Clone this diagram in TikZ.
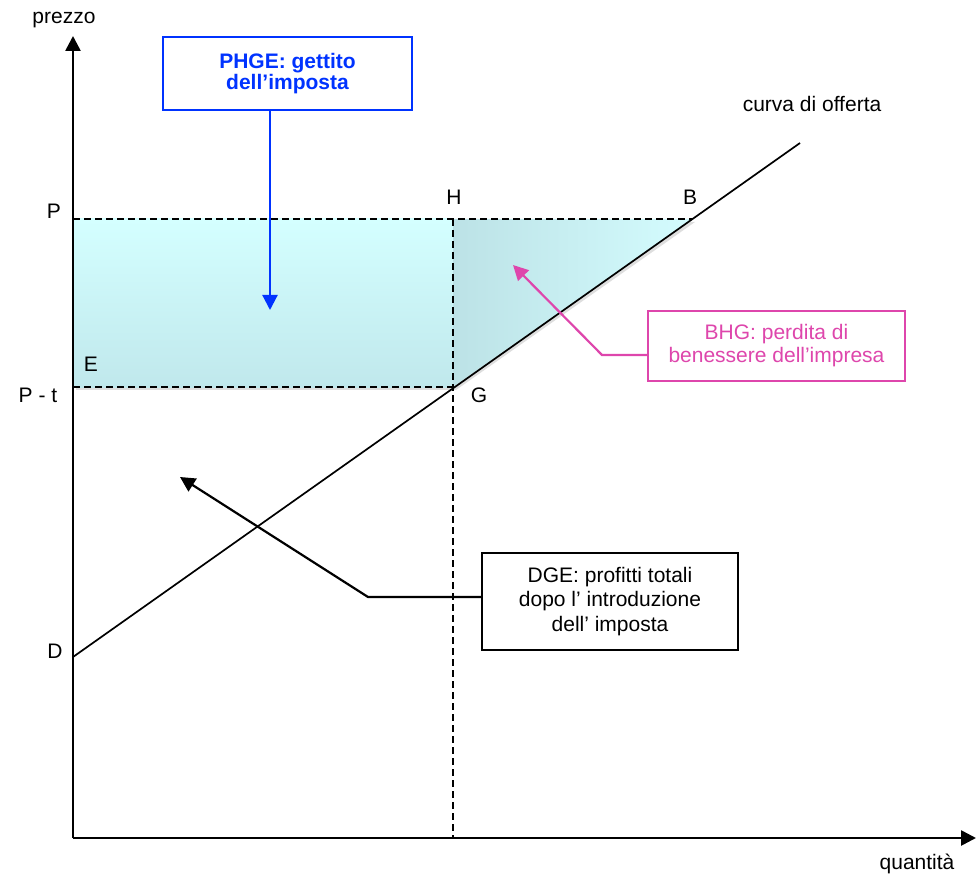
\documentclass[tikz,border=0pt]{standalone}
\usepackage{fontspec}
\setmainfont{Liberation Sans}
\usetikzlibrary{arrows.meta,positioning,calc}
\definecolor{taxblue}{RGB}{0,51,255}
\definecolor{losspink}{RGB}{222,70,172}
\definecolor{cyantop}{RGB}{212,255,255}
\definecolor{cyanbot}{RGB}{192,232,236}
\definecolor{cyanleft}{RGB}{188,226,230}
\definecolor{cyanright}{RGB}{212,252,254}

\begin{document}
\begin{tikzpicture}[x=1pt,y=-1pt,>={Triangle[length=15pt,width=15pt]},
    lbl/.style={font=\fontsize{21}{24}\selectfont,inner sep=0pt,anchor=base},
    guide/.style={dashed,dash pattern=on 7pt off 4pt,line width=1.7pt},
    infobox/.style={draw,line width=1.8pt,fill=white,align=center,inner sep=0pt}]
    \useasboundingbox (0,0) rectangle (976,874);

    % the points of the diagram
    \coordinate (O) at (73,838);
    \coordinate (ytip) at (73,36);
    \coordinate (xtip) at (976,838);
    \coordinate (D) at (73,657);
    \coordinate (S) at (800,143);
    \coordinate (P) at (73,219);
    \coordinate (E) at (73,387);
    \coordinate (H) at (453,219);
    \coordinate (G) at (453,387);
    \coordinate (B) at (692,219);
    \coordinate (Q) at (453,838);

    % shadows of the areas
    \fill[black,opacity=.13] ($(P)+(3,3)$) rectangle ($(G)+(3,3)$);
    \fill[black,opacity=.13] ($(H)+(3,3)$) -- ($(B)+(3,3)$) -- ($(G)+(3,3)$) -- cycle;

    % the tax revenue and the loss of welfare
    \shade[top color=cyantop,bottom color=cyanbot] (P) rectangle (G);
    \shade[left color=cyanleft,right color=cyanright] (H) -- (B) -- (G) -- cycle;

    % dashed guide lines
    \draw[guide] (P) -- (B);
    \draw[guide] (E) -- (G);
    \draw[guide] (H) -- (Q);

    % the supply curve
    \draw[line width=1.7pt] (D) -- (S);

    % draw the axes
    \draw[->,line width=2.6pt] (O) -- (ytip);
    \draw[->,line width=2.6pt] (O) -- (xtip);

    % labels of axes and points
    \node[lbl] (prezzo) at (64,24) {prezzo};
    \node[lbl] (quantita) at (917,869) {quantità};
    \node[lbl] (curva) at (812,112) {curva di offerta};
    \foreach \x/\y/\name/\txt in {
      54/219/P/P,
      38/402/Pt/P - t,
      91/371/E/E,
      454/205/H/H,
      690/205/B/B,
      479/402/G/G,
      55/658/D/D}
    \node[lbl] (lbl\name) at (\x,\y) {\txt};

    % the boxes with the comments
    \node[infobox,draw=taxblue,text=taxblue,font=\fontsize{21}{20.5}\selectfont\bfseries,
      minimum width=249pt,minimum height=73pt] (phgebox) at (287.5,73.5)
      {PHGE: gettito\\dell’imposta};
    \node[infobox,draw=losspink,text=losspink,font=\fontsize{21}{23}\selectfont,
      minimum width=257pt,minimum height=70pt] (bhgbox) at (776.5,346)
      {BHG: perdita di\\benessere dell’impresa};
    \node[infobox,font=\fontsize{21}{24.5}\selectfont,
      minimum width=256pt,minimum height=97pt] (dgebox) at (610,601.5)
      {DGE: profitti totali\\dopo l’ introduzione\\dell’ imposta};

    % connectors from the boxes to the areas
    \coordinate (phgetip) at (270,310);
    \coordinate (bhgbend) at (602,355);
    \coordinate (bhgtip) at (513,265);
    \coordinate (dgebend) at (368,597);
    \coordinate (dgetip) at (180,477);
    \draw[->,taxblue,line width=2.2pt] (phgebox.south -| phgetip) -- (phgetip);
    \draw[->,losspink,line width=2.2pt] (bhgbox.west |- bhgbend) -- (bhgbend) -- (bhgtip);
    \draw[->,line width=2.2pt] (dgebox.west |- dgebend) -- (dgebend) -- (dgetip);
\end{tikzpicture}
\end{document}
